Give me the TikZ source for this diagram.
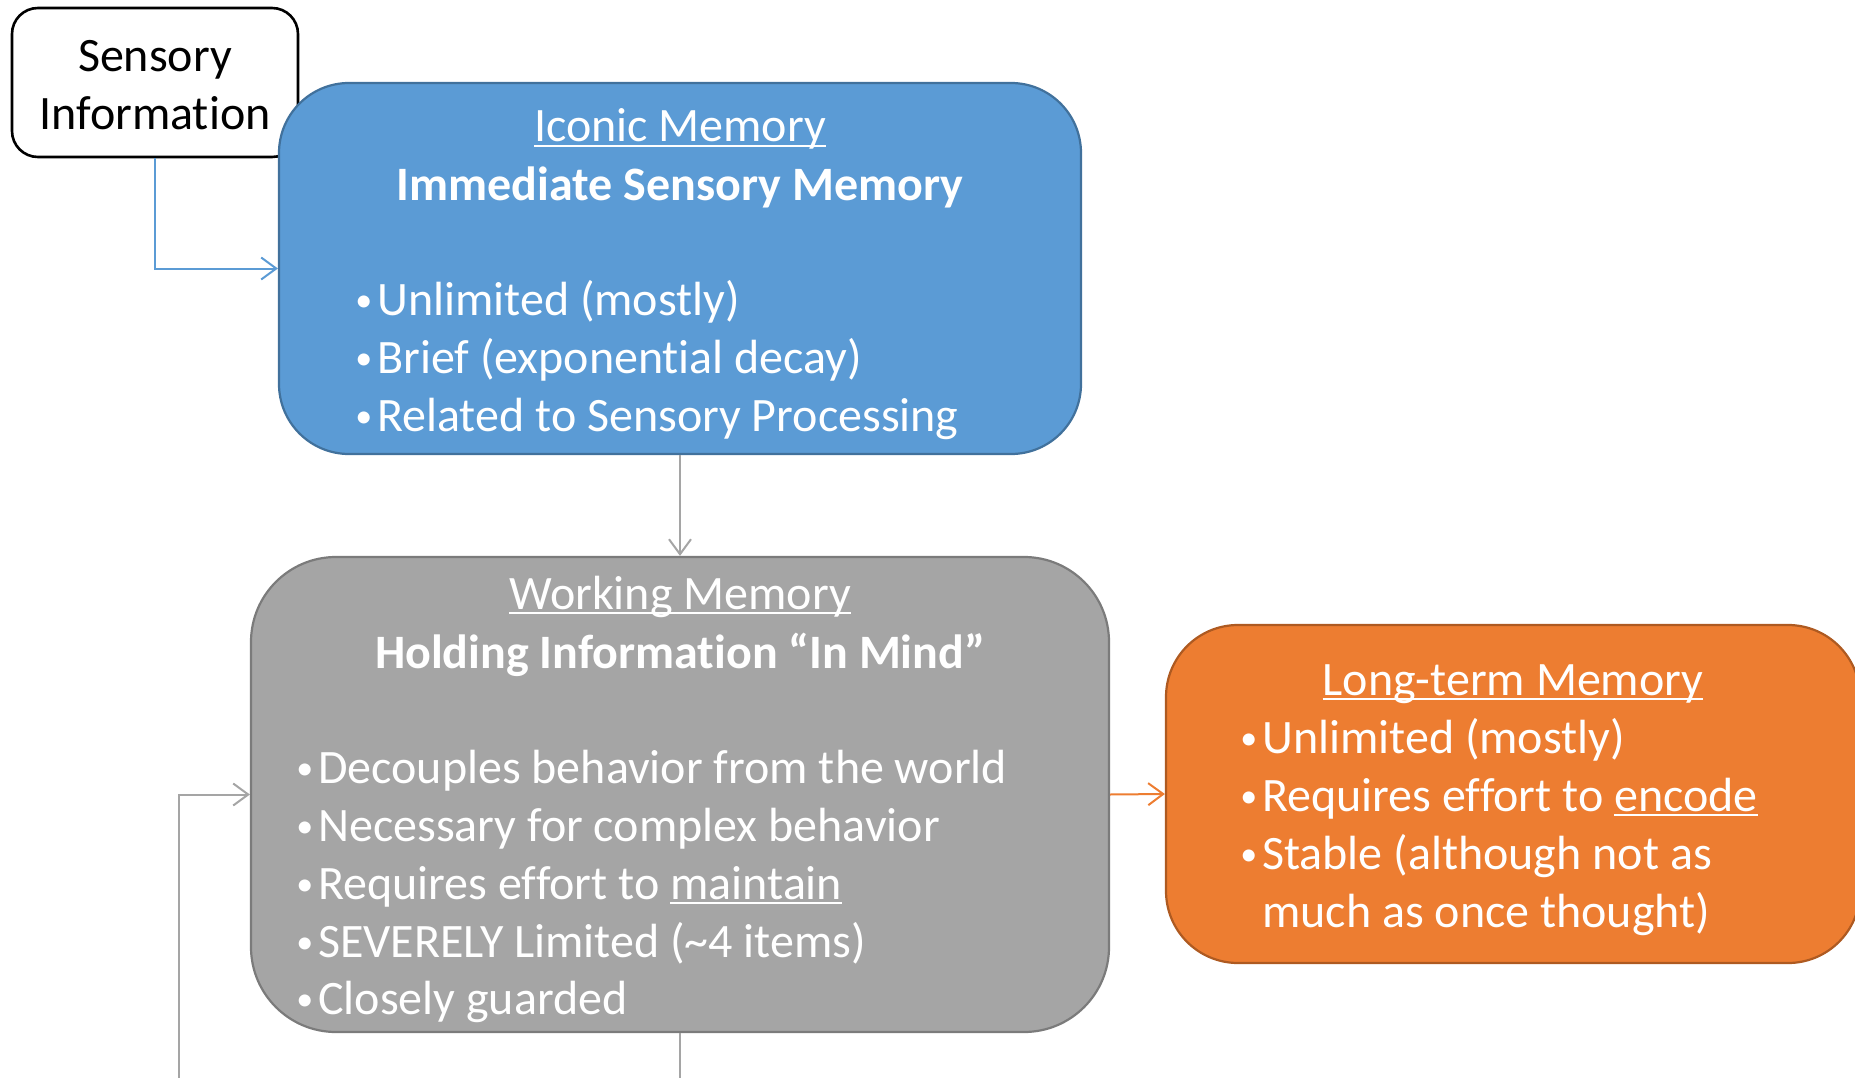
\documentclass[tikz,border=0pt]{standalone}
\usepackage{fontspec}
\setmainfont[Ligatures=NoCommon]{Carlito}
\usetikzlibrary{arrows.meta}

\definecolor{iconicfill}{HTML}{5B9BD5}
\definecolor{iconicedge}{HTML}{41719C}
\definecolor{workfill}{HTML}{A5A5A5}
\definecolor{workedge}{HTML}{7B7B7B}
\definecolor{longfill}{HTML}{ED7D31}
\definecolor{longedge}{HTML}{AE5A21}

% underline that sits just below the baseline and ignores descenders
\newcommand\myul[1]{\setbox0\hbox{#1}\rlap{\rule[-5pt]{\wd0}{2.2pt}}\box0}
% small hanging bullet placed left of the item text
\newcommand\bitem{\makebox[0pt][r]{\raisebox{4pt}{\fontsize{34}{34}\selectfont\textbullet}\hspace{5pt}}}

\begin{document}
\begin{tikzpicture}[x=1pt,y=-1pt,
  membox/.style={draw, line width=2.2pt, inner sep=0pt},
  txt/.style={text=white, inner sep=0pt, anchor=base, font=\fontsize{48}{58}\selectfont},
  item/.style={txt, anchor=base west},
  conn/.style={line width=2pt, -{Straight Barb[length=15pt,width=22pt,line width=2pt]}},
]
\useasboundingbox (0,0) rectangle (1855,1078);

% memory stores
\node[membox, draw=black, line width=2.6pt, fill=white, rounded corners=26pt,
      minimum width=286pt, minimum height=149pt] (sens) at (155,82.5) {};
\node[membox, draw=iconicedge, fill=iconicfill, rounded corners=70pt,
      minimum width=802pt, minimum height=371pt] (iconic) at (680,268.5) {};
\node[membox, draw=workedge, fill=workfill, rounded corners=85pt,
      minimum width=858pt, minimum height=475pt] (working) at (680,794.5) {};
\node[membox, draw=longedge, fill=longfill, rounded corners=72pt,
      minimum width=694pt, minimum height=338pt] (longterm) at (1513,794) {};

% sensory input label
\node[txt, text=black] (sensA) at (155,72) {Sensory};
\node[txt, text=black] (sensB) at (155,130) {Information};

% iconic memory text
\node[txt] (icT) at (680,142) {\myul{Iconic Memory}};
\node[txt] (icS) at (680,201) {\bfseries Immediate Sensory Memory};
\node[item] (ic1) at (377,315) {\bitem Unlimited (mostly)};
\node[item] (ic2) at (377,373) {\bitem Brief (exponential decay)};
\node[item] (ic3) at (377,431) {\bitem Related to Sensory Processing};

% working memory text
\node[txt] (wmT) at (680,609) {\myul{Working Memory}};
\node[txt] (wmS) at (680,668) {\bfseries Holding Information “In Mind”};
\node[item] (wm1) at (318,783) {\bitem Decouples behavior from the world};
\node[item] (wm2) at (318,841) {\bitem Necessary for complex behavior};
\node[item] (wm3) at (318,899) {\bitem Requires effort to \myul{maintain}};
\node[item] (wm4) at (318,957) {\bitem SEVERELY Limited (\textasciitilde4 items)};
\node[item] (wm5) at (318,1014) {\bitem Closely guarded};

% long-term memory text
\node[txt] (ltT) at (1513,695) {\myul{Long-term Memory}};
\node[item] (lt1) at (1262,753) {\bitem Unlimited (mostly)};
\node[item] (lt2) at (1262,811) {\bitem Requires effort to \myul{encode}};
\node[item] (lt3) at (1262,869) {\bitem Stable (although not as};
\node[item] (lt4) at (1262,927) {much as once thought)};

% connectors
\coordinate (loopfoot) at (179,1090);
\coordinate (downfoot) at (680,1090);
\draw[conn, draw=iconicfill] (sens.south) |- (iconic.west);
\draw[conn, draw=workfill] (iconic.south) -- (working.north);
\draw[conn, draw=longfill] (working.east) -- (longterm.west);
\draw[conn, draw=workfill] (loopfoot) |- (working.west);
\draw[line width=2pt, draw=workfill] (working.south) -- (downfoot);
\end{tikzpicture}
\end{document}
